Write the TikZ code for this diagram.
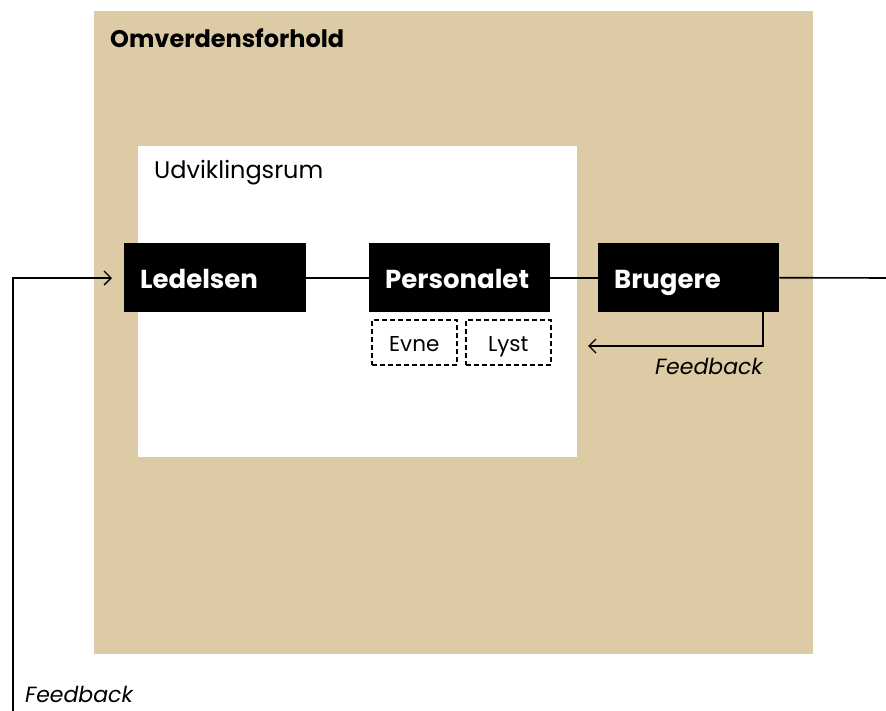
\documentclass[tikz,border=0pt]{standalone}
\usepackage{fontspec}
\setmainfont{Poppins}
\usetikzlibrary{arrows.meta}
\definecolor{sand}{HTML}{DCCBA4}
\tikzset{
  x=1pt, y=-1pt,
  blackbox/.style={fill=black, text=white, minimum height=69pt, minimum width=#1, inner sep=0pt,
    font=\fontsize{26}{30}\selectfont\bfseries, anchor=north west, align=left, text width=#1,
    text height=23pt, text depth=2pt},
  dashbox/.style={draw=black, dash pattern=on 5pt off 3pt, line width=1.5pt,
    minimum width=85pt, minimum height=45pt, inner sep=0pt, anchor=north west,
    font=\fontsize{21.5}{25}\selectfont, text height=19pt, text depth=0pt},
  conn/.style={line width=1.6pt},
  tip/.style={-{Straight Barb[length=7pt,width=14pt,line width=1.4pt]}},
  fb/.style={font=\fontsize{22}{26}\selectfont\itshape, inner sep=0pt}
}
\begin{document}
\begin{tikzpicture}
\useasboundingbox (0,0) rectangle (886,710);
% outer and inner areas
\fill[sand] (94,11) rectangle (813,654);
\fill[white] (138,146) rectangle (577,457);
\node[anchor=west, inner sep=0pt, font=\fontsize{24}{28}\selectfont\bfseries] (omv) at (110,38) {Omverdensforhold};
\node[anchor=west, inner sep=0pt, font=\fontsize{24}{28}\selectfont] (udv) at (154,173) {Udviklingsrum};
% the three actors
\node[blackbox=182pt] (led) at (124,243) {\hspace*{16pt}Ledelsen};
\node[blackbox=181pt] (per) at (369,243) {\hspace*{16pt}Personalet};
\node[blackbox=181pt] (bru) at (598,243) {\hspace*{16pt}Brugere};
\node[dashbox] (evne) at (371,319) {Evne};
\node[dashbox] (lyst) at (465,319) {Lyst};
% flow
\coordinate (inL) at (112,278);
\coordinate (outR) at (890,278);
\coordinate (botL) at (13,712);
\coordinate (fbEnd) at (588,346);
\draw[conn] (led.east) -- (per.west);
\draw[conn] (per.east) -- (bru.west);
\draw[conn] (bru.east) -- (outR);
\draw[conn, tip] (botL) |- (inL);
\draw[conn, tip] (bru.south -| 763,0) |- (fbEnd);
\node[fb, anchor=north east] (fb1) at (763,358) {Feedback};
\node[fb, anchor=north west] (fb2) at (25,686) {Feedback};
\end{tikzpicture}
\end{document}
